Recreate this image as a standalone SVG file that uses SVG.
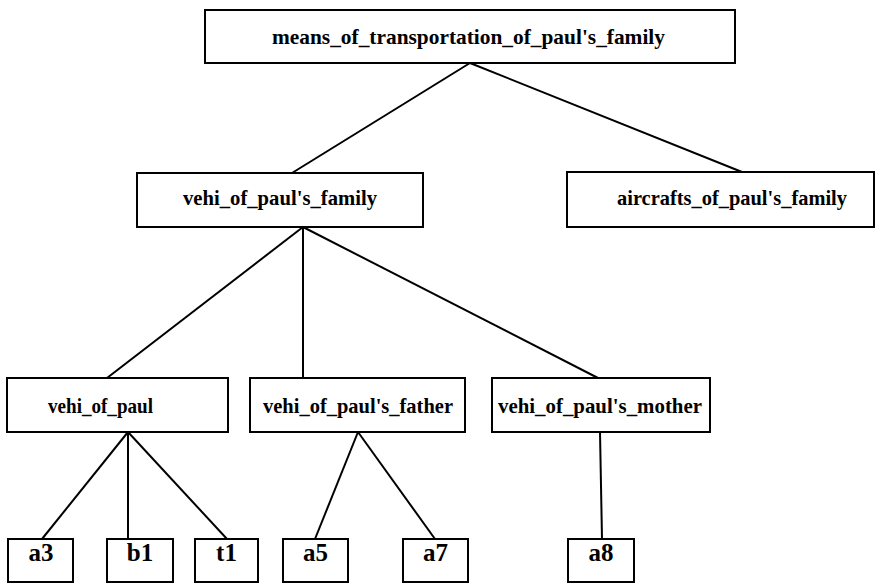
<svg xmlns="http://www.w3.org/2000/svg" width="886" height="584" viewBox="0 0 886 584">
  <style>
    .box { fill: #fff; stroke: #000; stroke-width: 2; }
    .edge { stroke: #000; stroke-width: 2; fill: none; }
    .lbl { font-family: "Liberation Serif", "Times New Roman", serif; font-size: 21px; font-weight: bold; fill: #000; }
    .leaf { font-family: "Liberation Serif", "Times New Roman", serif; font-size: 25px; font-weight: bold; fill: #000; }
  </style>
  <rect x="0" y="0" width="886" height="584" fill="#fff"/>

  <!-- tree edges -->
  <g id="connectors">
    <line class="edge" x1="470" y1="63" x2="292" y2="173"/>
    <line class="edge" x1="470" y1="63" x2="742" y2="172"/>
    <line class="edge" x1="303" y1="227" x2="107" y2="378"/>
    <line class="edge" x1="303" y1="227" x2="303" y2="378"/>
    <line class="edge" x1="303" y1="227" x2="598" y2="378"/>
    <line class="edge" x1="128" y1="432" x2="42" y2="539"/>
    <line class="edge" x1="128" y1="432" x2="128" y2="539"/>
    <line class="edge" x1="128" y1="432" x2="227" y2="539"/>
    <line class="edge" x1="358" y1="432" x2="315" y2="539"/>
    <line class="edge" x1="358" y1="432" x2="435" y2="539"/>
    <line class="edge" x1="600" y1="432" x2="602" y2="539"/>
  </g>

  <g id="root">
    <rect class="box" x="205" y="10" width="530" height="53"/>
    <text class="lbl" x="272" y="44" textLength="393" lengthAdjust="spacingAndGlyphs">means_of_transportation_of_paul's_family</text>
  </g>

  <g id="vehi_family">
    <rect class="box" x="137" y="173" width="286" height="54"/>
    <text class="lbl" x="183" y="205" textLength="194" lengthAdjust="spacingAndGlyphs">vehi_of_paul's_family</text>
  </g>

  <g id="aircrafts_family">
    <rect class="box" x="567" y="172" width="307" height="55"/>
    <text class="lbl" x="617" y="205" textLength="230" lengthAdjust="spacingAndGlyphs">aircrafts_of_paul's_family</text>
  </g>

  <g id="vehi_paul">
    <rect class="box" x="7" y="378" width="221" height="54"/>
    <text class="lbl" x="48" y="413" textLength="105" lengthAdjust="spacingAndGlyphs">vehi_of_paul</text>
  </g>

  <g id="vehi_father">
    <rect class="box" x="250" y="378" width="215" height="54"/>
    <text class="lbl" x="263" y="413" textLength="190" lengthAdjust="spacingAndGlyphs">vehi_of_paul's_father</text>
  </g>

  <g id="vehi_mother">
    <rect class="box" x="492" y="378" width="218" height="54"/>
    <text class="lbl" x="498" y="413" textLength="204" lengthAdjust="spacingAndGlyphs">vehi_of_paul's_mother</text>
  </g>

  <g id="a3">
    <rect class="box" x="8" y="539" width="65" height="43"/>
    <text class="leaf" x="41" y="561" text-anchor="middle">a3</text>
  </g>
  <g id="b1">
    <rect class="box" x="107" y="539" width="66" height="43"/>
    <text class="leaf" x="140" y="561" text-anchor="middle">b1</text>
  </g>
  <g id="t1">
    <rect class="box" x="195" y="539" width="63" height="43"/>
    <text class="leaf" x="226.5" y="561" text-anchor="middle">t1</text>
  </g>
  <g id="a5">
    <rect class="box" x="283" y="539" width="65" height="43"/>
    <text class="leaf" x="315.5" y="561" text-anchor="middle">a5</text>
  </g>
  <g id="a7">
    <rect class="box" x="403" y="539" width="65" height="43"/>
    <text class="leaf" x="435.5" y="561" text-anchor="middle">a7</text>
  </g>
  <g id="a8">
    <rect class="box" x="568" y="539" width="66" height="43"/>
    <text class="leaf" x="601" y="561" text-anchor="middle">a8</text>
  </g>
</svg>
